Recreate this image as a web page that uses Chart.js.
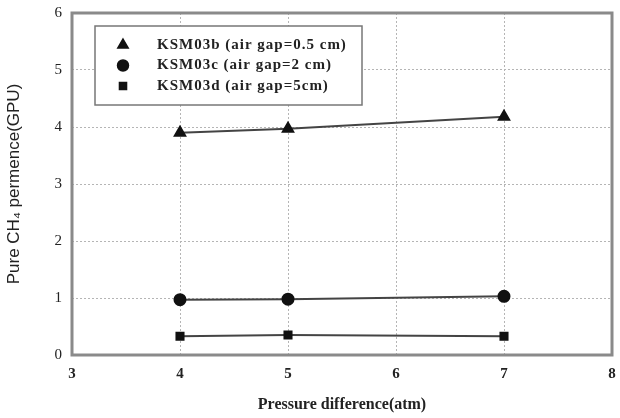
<!DOCTYPE html>
<html lang="en">
<head>
    <meta charset="UTF-8" />
    <title>Pure CH4 permeance</title>
    <script src="https://cdn.jsdelivr.net/npm/chart.js@4.4.1/dist/chart.umd.min.js"></script>
    <style>
        html, body { margin: 0; padding: 0; background: #fff; }
        #wrap { width: 620px; height: 418px; }
    </style>
</head>
<body>
    <div id="wrap"><canvas id="ch4Chart" width="620" height="418"></canvas></div>

    <script>
        // data
        const pressure = [4, 5, 7];
        const ksm03b = [3.90, 3.97, 4.18];
        const ksm03c = [0.97, 0.98, 1.03];
        const ksm03d = [0.33, 0.35, 0.33];
        const xTicks = [3, 4, 5, 6, 7, 8];
        const yTicks = [0, 1, 2, 3, 4, 5, 6];

        const seriesLabels = [
            "KSM03b (air gap=0.5 cm)",
            "KSM03c (air gap=2 cm)",
            "KSM03d (air gap=5cm)"
        ];

        function toPoints(ys) {
            return pressure.map((x, i) => ({ x: x, y: ys[i] }));
        }

        const serif = "'Liberation Serif', 'DejaVu Serif', serif";
        const sans = "'Liberation Sans', Arial, sans-serif";

        // plot frame + legend box drawn inside the plot
        const framePlugin = {
            id: "frame",
            afterDraw(chart) {
                const ctx = chart.ctx;
                const a = chart.chartArea;
                ctx.save();
                ctx.strokeStyle = "#8a8a8a";
                ctx.lineWidth = 3;
                ctx.strokeRect(a.left, a.top, a.right - a.left, a.bottom - a.top);

                // legend
                const bx = 95, by = 26, bw = 267, bh = 79;
                ctx.fillStyle = "#fff";
                ctx.fillRect(bx, by, bw, bh);
                ctx.strokeStyle = "#777";
                ctx.lineWidth = 1.5;
                ctx.strokeRect(bx, by, bw, bh);
                ctx.font = "bold 15px " + serif;
                ctx.letterSpacing = "1px";
                ctx.textBaseline = "middle";
                chart.data.datasets.forEach((ds, i) => {
                    const cy = by + 19 + i * 20.5;
                    ctx.fillStyle = "#111";
                    ctx.strokeStyle = "#111";
                    Chart.helpers.drawPoint(ctx, {
                        pointStyle: ds.pointStyle,
                        radius: ds.pointRadius,
                        borderWidth: 1
                    }, bx + 28, cy);
                    ctx.fillStyle = "#222";
                    ctx.fillText(ds.label, bx + 62, cy);
                });
                ctx.restore();
            }
        };

        const common = {
            borderColor: "#444",
            backgroundColor: "#111",
            pointBorderColor: "#111",
            pointBackgroundColor: "#111",
            borderWidth: 2,
            showLine: true,
            tension: 0
        };

        const gridStyle = {
            color: "#b5b5b5",
            lineWidth: 1,
            drawTicks: false
        };

        new Chart(document.getElementById("ch4Chart"), {
            type: "scatter",
            data: {
                datasets: [
                    Object.assign({}, common, { label: seriesLabels[0], data: toPoints(ksm03b), pointStyle: "triangle", pointRadius: 6 }),
                    Object.assign({}, common, { label: seriesLabels[1], data: toPoints(ksm03c), pointStyle: "circle", pointRadius: 5.5 }),
                    Object.assign({}, common, { label: seriesLabels[2], data: toPoints(ksm03d), pointStyle: "rect", pointRadius: 5 })
                ]
            },
            plugins: [framePlugin],
            options: {
                responsive: false,
                animation: false,
                layout: { padding: { top: 13, right: 4, left: 0, bottom: 0 } },
                plugins: {
                    legend: { display: false },
                    tooltip: { enabled: false }
                },
                scales: {
                    x: {
                        type: "linear",
                        min: 3,
                        max: 8,
                        afterBuildTicks(axis) { axis.ticks = xTicks.map(v => ({ value: v })); },
                        afterFit(axis) { axis.height = 63; axis.paddingRight = 0; axis.paddingLeft = 0; },
                        grid: gridStyle,
                        border: { display: false, dash: [2, 2] },
                        ticks: {
                            color: "#222",
                            padding: 10,
                            font: { family: serif, size: 15, weight: "bold" }
                        },
                        title: {
                            display: true,
                            text: "Pressure difference(atm)",
                            color: "#222",
                            padding: { top: 8 },
                            font: { family: serif, size: 16, weight: "bold" }
                        }
                    },
                    y: {
                        type: "linear",
                        min: 0,
                        max: 6,
                        afterBuildTicks(axis) { axis.ticks = yTicks.map(v => ({ value: v })); },
                        afterFit(axis) { axis.width = 72; axis.paddingTop = 0; axis.paddingBottom = 0; },
                        grid: gridStyle,
                        border: { display: false, dash: [2, 2] },
                        ticks: {
                            color: "#222",
                            padding: 10,
                            font: { family: serif, size: 15 }
                        },
                        title: {
                            display: true,
                            text: "Pure CH\u2084 permence(GPU)",
                            color: "#222",
                            padding: { bottom: 4 },
                            font: { family: sans, size: 17 }
                        }
                    }
                }
            }
        });
    </script>
</body>
</html>
